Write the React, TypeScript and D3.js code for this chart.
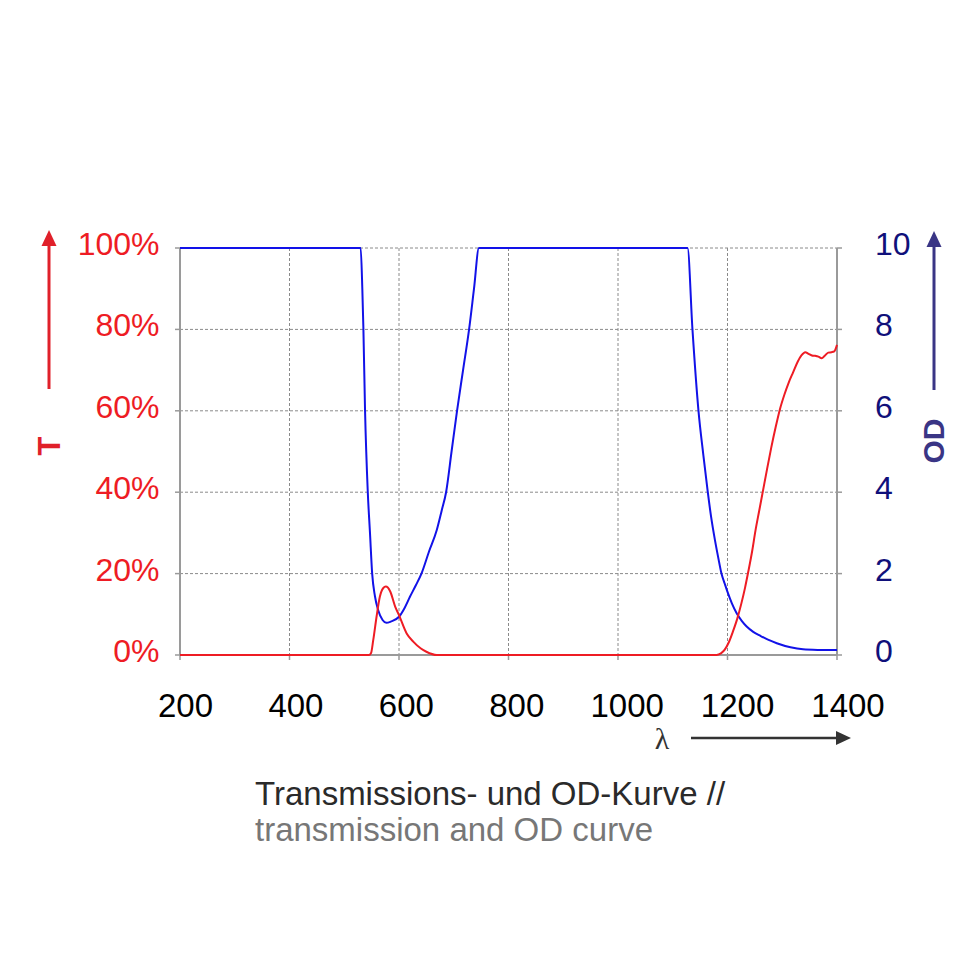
import React from "react";
import * as d3 from "d3";

// ---- data ----
const xTicks = [200, 400, 600, 800, 1000, 1200, 1400];
const tTicks = [0, 20, 40, 60, 80, 100];
const odTicks = [0, 2, 4, 6, 8, 10];

// OD curve (right axis)
const odWavelength = [200, 530, 533, 535, 538, 543, 547, 551, 556, 562, 570, 577, 585, 600, 610, 620, 631, 641, 655, 669, 678, 686, 696, 706, 717, 728, 737, 746, 1127, 1136, 1147, 1156, 1164, 1170, 1177, 1183, 1189, 1195, 1200, 1208, 1217, 1226, 1235, 1247, 1259, 1275, 1290, 1315, 1338, 1365, 1400];
const odValue = [10, 10, 9, 8, 6, 4, 3, 2, 1.45, 1.1, 0.86, 0.79, 0.82, 0.94, 1.15, 1.43, 1.72, 2, 2.55, 3.07, 3.55, 4, 5, 6, 7, 8, 9, 10, 10, 8, 6, 4.9, 4, 3.4, 2.83, 2.4, 2.0, 1.75, 1.55, 1.27, 1.02, 0.84, 0.7, 0.57, 0.48, 0.37, 0.29, 0.19, 0.14, 0.125, 0.12];

// Transmission curve (left axis, %)
const tWavelength = [200, 545, 549, 553, 559, 565, 571, 576, 584, 593, 600, 614, 626, 640, 650, 669, 1180, 1188, 1195, 1202, 1210, 1218, 1225, 1232, 1238, 1245, 1251, 1258, 1265, 1272, 1280, 1288, 1296, 1304, 1312, 1320, 1328, 1335, 1342, 1348, 1354, 1360, 1366, 1372, 1378, 1384, 1390, 1395, 1400];
const tValue = [0, 0, 0.5, 3.7, 9.4, 14.3, 16.4, 16.8, 15.6, 11.9, 9.8, 5.3, 3.3, 1.6, 0.8, 0, 0, 0.4, 1.3, 3, 5.8, 9, 12.5, 16.5, 20.5, 25.5, 30.5, 35.5, 40.5, 45.5, 51, 56, 60.5, 64, 67, 69.5, 72, 73.6, 74.4, 74, 73.6, 73.5, 73.3, 72.9, 73.6, 74.3, 74.4, 74.6, 76.2];

const titleDe = "Transmissions- und OD-Kurve //";
const titleEn = "transmission and OD curve";

export default function App() {
  const W = 980, H = 980;
  const x = d3.scaleLinear().domain([200, 1400]).range([180, 837]);
  const xLabel = d3.scaleLinear().domain([200, 1400]).range([185.5, 848]);
  const yT = d3.scaleLinear().domain([0, 100]).range([655, 248]);
  const yOD = d3.scaleLinear().domain([0, 10]).range([655, 248]);

  const odPts = odWavelength.map((w, i) => [w, odValue[i]] as [number, number]);
  const tPts = tWavelength.map((w, i) => [w, tValue[i]] as [number, number]);

  const odLine = d3.line<[number, number]>().x(d => x(d[0])).y(d => yOD(d[1])).curve(d3.curveMonotoneX);
  const tLine = d3.line<[number, number]>().x(d => x(d[0])).y(d => yT(d[1])).curve(d3.curveMonotoneX);

  const font = "'Liberation Sans', Arial, Helvetica, sans-serif";
  const red = "#ee1c24";
  const navy = "#10107a";
  const arrowRed = "#e0202a";
  const arrowNavy = "#3a3585";
  const gridC = "#8a8a8a";
  const axisC = "#9a9a9a";

  return (
    <svg width={W} height={H} style={{ position: "absolute", left: 0, top: 0, background: "#fff" }} fontFamily={font}>
      <rect x={0} y={0} width={W} height={H} fill="#fff" />

      {/* horizontal grid */}
      {tTicks.filter(t => t > 0).map(t => (
        <line key={"hg" + t} x1={x(200)} x2={x(1400)} y1={yT(t)} y2={yT(t)} stroke={gridC} strokeWidth={1} strokeDasharray="3,2" />
      ))}
      {/* vertical grid */}
      {xTicks.filter(v => v > 200 && v < 1400).map(v => (
        <line key={"vg" + v} x1={x(v)} x2={x(v)} y1={yT(100)} y2={yT(0)} stroke={gridC} strokeWidth={1} strokeDasharray="3,2" />
      ))}
      {/* axes */}
      <line x1={x(200)} x2={x(200)} y1={yT(100)} y2={yT(0)} stroke={axisC} strokeWidth={2} />
      <line x1={x(1400)} x2={x(1400)} y1={yT(100)} y2={yT(0)} stroke={axisC} strokeWidth={2} />
      <line x1={x(200)} x2={x(1400)} y1={yT(0)} y2={yT(0)} stroke={axisC} strokeWidth={2} />
      {tTicks.map(t => (
        <line key={"lt" + t} x1={x(200) - 5} x2={x(200)} y1={yT(t)} y2={yT(t)} stroke={axisC} strokeWidth={1.5} />
      ))}
      {odTicks.map(t => (
        <line key={"rt" + t} x1={x(1400)} x2={x(1400) + 5} y1={yOD(t)} y2={yOD(t)} stroke={axisC} strokeWidth={1.5} />
      ))}
      {xTicks.map(v => (
        <line key={"bt" + v} x1={x(v)} x2={x(v)} y1={yT(0)} y2={yT(0) + 5} stroke={axisC} strokeWidth={1.5} />
      ))}

      {/* curves */}
      <path d={odLine(odPts) || ""} fill="none" stroke="#1212e8" strokeWidth={2} />
      <path d={tLine(tPts) || ""} fill="none" stroke={red} strokeWidth={2} />

      {/* left tick labels */}
      {tTicks.map(t => (
        <text key={"ll" + t} x={159.5} y={yT(t) + 7} textAnchor="end" fontSize={32} fill={red}>{t + "%"}</text>
      ))}
      {/* right tick labels */}
      {odTicks.map(t => (
        <text key={"rl" + t} x={875} y={yOD(t) + 7} textAnchor="start" fontSize={32} fill={navy}>{t}</text>
      ))}
      {/* x tick labels */}
      {xTicks.map(v => (
        <text key={"xl" + v} x={xLabel(v)} y={717} textAnchor="middle" fontSize={33} fill="#000">{v}</text>
      ))}

      {/* left T arrow */}
      <line x1={49} x2={49} y1={389} y2={244} stroke={arrowRed} strokeWidth={3} />
      <path d="M49,230 L41.5,246 L56.5,246 Z" fill={arrowRed} />
      <text transform="translate(60,446) rotate(-90)" textAnchor="middle" fontSize={31} fontWeight="bold" fill={arrowRed}>T</text>

      {/* right OD arrow */}
      <line x1={934} x2={934} y1={390} y2={244} stroke={arrowNavy} strokeWidth={3} />
      <path d="M934,231 L926.5,247 L941.5,247 Z" fill={arrowNavy} />
      <text transform="translate(944,441) rotate(-90)" textAnchor="middle" fontSize={30} fontWeight="bold" fill={arrowNavy}>OD</text>

      {/* lambda arrow */}
      <text x={662} y={749} textAnchor="middle" fontSize={30} fontFamily="'Liberation Serif', 'DejaVu Serif', serif" fill="#333">λ</text>
      <line x1={691} x2={838} y1={738} y2={738} stroke="#333" strokeWidth={2.5} />
      <path d="M851,738 L836,731 L836,745 Z" fill="#333" />

      {/* title */}
      <text x={255} y={805} fontSize={33} fill="#2a2a2a">{titleDe}</text>
      <text x={255} y={841} fontSize={33} fill="#777">{titleEn}</text>
    </svg>
  );
}
